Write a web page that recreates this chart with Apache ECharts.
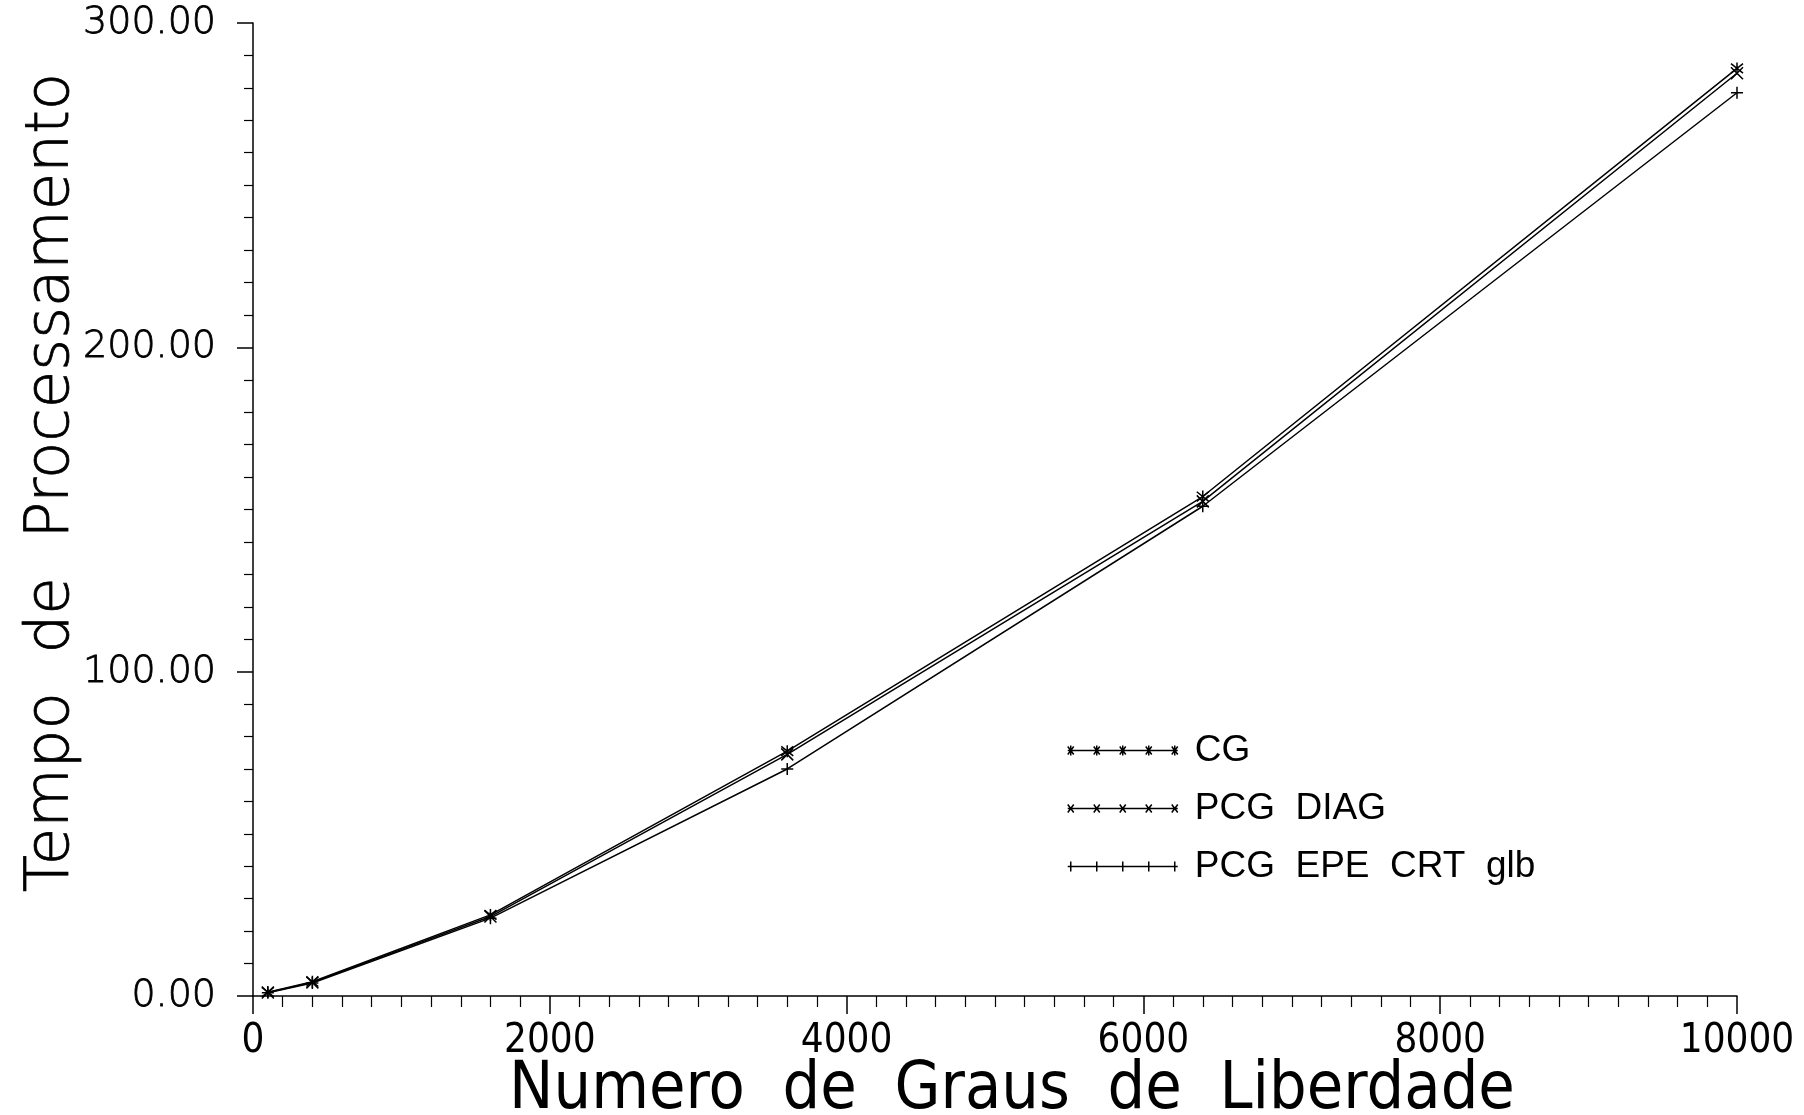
<!DOCTYPE html>
<html>
<head>
<meta charset="utf-8">
<title>Tempo de Processamento</title>
<script src="https://cdn.jsdelivr.net/npm/echarts@6/dist/echarts.min.js"></script>
<style>
  html, body { margin: 0; padding: 0; background: #fff; }
  #chart { width: 1804px; height: 1115px; }
</style>
</head>
<body>
<div id="chart"></div>
<script>
// numero de graus de liberdade (n x n malhas)
var graus = [100, 400, 1600, 3600, 6400, 10000];
var tempoCG = [1.2, 4.4, 25.0, 75.5, 154.0, 286.0];
var tempoDIAG = [1.1, 4.2, 24.5, 74.5, 152.5, 284.5];
var tempoEPE = [1.0, 4.0, 24.0, 70.0, 151.0, 278.5];

var nomes = ['CG', 'PCG  DIAG', 'PCG  EPE  CRT  glb'];

// marcadores desenhados com tracos
var mkStar = 'path://M5,0L5,10M1,1L9,9M9,1L1,9';
var mkCross = 'path://M1,1L9,9M9,1L1,9';
var mkPlus = 'path://M5,0L5,10M0,5L10,5';

// icones da legenda: linha com 5 marcadores
// (o M final so alarga a caixa para afastar o texto)
function legendIcon(kind) {
  var d = 'M0,8L110,8';
  [3, 29, 55, 81, 107].forEach(function (cx) {
    if (kind === 'star' || kind === 'plus') d += 'M' + cx + ',3L' + cx + ',13';
    if (kind === 'star' || kind === 'cross') {
      d += 'M' + (cx - 3) + ',4L' + (cx + 3) + ',12M' + (cx + 3) + ',4L' + (cx - 3) + ',12';
    }
    if (kind === 'plus') d += 'M' + (cx - 3) + ',8L' + (cx + 3) + ',8';
  });
  d += 'M0,3M0,13M122,8';
  return 'path://' + d;
}

function pares(ys) {
  return graus.map(function (x, i) { return [x, ys[i]]; });
}

var chart = echarts.init(document.getElementById('chart'));

var axisBlack = { lineStyle: { color: '#000', width: 1.5 } };

function serie(name, ys, symbol) {
  return {
    name: name,
    type: 'line',
    data: pares(ys),
    symbol: symbol,
    symbolSize: 12,
    lineStyle: { color: '#000', width: 1.5 },
    itemStyle: { color: 'transparent', borderColor: '#000', borderWidth: 1.5 },
    emphasis: { disabled: true },
    animation: false
  };
}

var option = {
  backgroundColor: '#fff',
  animation: false,
  grid: {
    left: 253,
    right: 67,
    top: 23,
    bottom: 119,
    outerBoundsMode: 'none'
  },
  legend: {
    orient: 'vertical',
    left: 1062,
    top: 727,
    itemWidth: 122,
    itemHeight: 10,
    itemGap: 21,
    selectedMode: false,
    itemStyle: { color: 'transparent', borderColor: '#000', borderWidth: 1.5 },
    textStyle: { color: '#000', fontSize: 37, fontFamily: 'Liberation Sans, Arial, sans-serif' },
    data: [
      { name: nomes[0], icon: legendIcon('star') },
      { name: nomes[1], icon: legendIcon('cross') },
      { name: nomes[2], icon: legendIcon('plus') }
    ]
  },
  xAxis: {
    type: 'value',
    min: 0,
    max: 10000,
    interval: 2000,
    name: 'Numero  de  Graus  de  Liberdade',
    nameLocation: 'middle',
    nameGap: 62,
    nameMoveOverlap: false,
    nameTextStyle: {
      color: '#000',
      fontSize: 66,
      fontFamily: 'Liberation Sans Narrow, DejaVu Sans Condensed, Liberation Sans, sans-serif',
      padding: [0, 0, 0, 34]
    },
    axisLine: axisBlack,
    axisTick: { show: true, inside: false, length: 18, lineStyle: { color: '#000', width: 1.5 } },
    minorTick: { show: true, splitNumber: 10, length: 11, lineStyle: { color: '#000', width: 1.2 } },
    splitLine: { show: false },
    axisLabel: {
      color: '#000',
      fontSize: 40,
      margin: 26,
      fontFamily: 'Liberation Sans Narrow, DejaVu Sans Condensed, Liberation Sans, sans-serif',
      formatter: function (v) { return String(v); }
    }
  },
  yAxis: {
    type: 'value',
    min: 0,
    max: 300,
    interval: 100,
    name: 'Tempo  de  Processamento',
    nameLocation: 'middle',
    nameGap: 170,
    nameMoveOverlap: false,
    nameRotate: 90,
    nameTextStyle: {
      color: '#000',
      fontSize: 61,
      fontFamily: 'DejaVu Sans, sans-serif',
      fontWeight: 200,
      textBorderColor: '#000',
      textBorderWidth: 0.8,
      padding: [0, 0, 0, 54]
    },
    axisLine: { show: true, lineStyle: { color: '#000', width: 1.5 } },
    axisTick: { show: true, inside: false, length: 16, lineStyle: { color: '#000', width: 1.5 } },
    minorTick: { show: true, splitNumber: 10, length: 9, lineStyle: { color: '#000', width: 1.2 } },
    splitLine: { show: false },
    axisLabel: {
      color: '#000',
      fontSize: 38,
      margin: 37,
      fontFamily: 'DejaVu Sans, sans-serif',
      fontWeight: 200,
      textBorderColor: '#000',
      textBorderWidth: 0.8,
      formatter: function (v) { return v.toFixed(2); }
    }
  },
  series: [
    serie(nomes[0], tempoCG, mkStar),
    serie(nomes[1], tempoDIAG, mkCross),
    serie(nomes[2], tempoEPE, mkPlus)
  ]
};

chart.setOption(option);
</script>
</body>
</html>
